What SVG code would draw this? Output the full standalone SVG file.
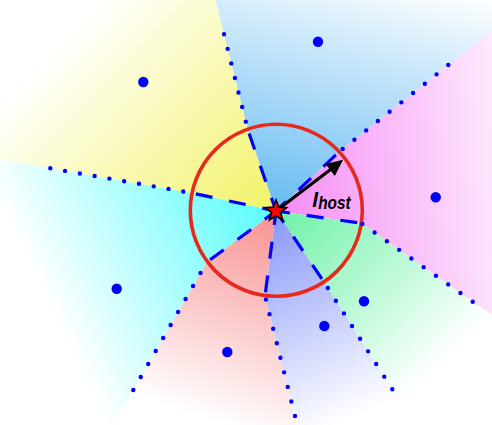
<svg xmlns="http://www.w3.org/2000/svg" width="492" height="425" viewBox="0 0 492 425">
<defs>
<linearGradient id="gY" gradientUnits="userSpaceOnUse" x1="276" y1="211" x2="80.6" y2="21"><stop offset="0" stop-color="#f2f266"/><stop offset="1" stop-color="#ffffff"/></linearGradient>
<linearGradient id="gB" gradientUnits="userSpaceOnUse" x1="276" y1="211" x2="338.7" y2="-41.5"><stop offset="0" stop-color="#66bbf2"/><stop offset="1" stop-color="#ffffff"/></linearGradient>
<linearGradient id="gP" gradientUnits="userSpaceOnUse" x1="276" y1="211" x2="554.9" y2="187.3"><stop offset="0" stop-color="#f58af5"/><stop offset="1" stop-color="#ffffff"/></linearGradient>
<linearGradient id="gG" gradientUnits="userSpaceOnUse" x1="276" y1="211" x2="433" y2="372"><stop offset="0" stop-color="#6cf2a6"/><stop offset="1" stop-color="#ffffff"/></linearGradient>
<linearGradient id="gV" gradientUnits="userSpaceOnUse" x1="276" y1="211" x2="361" y2="413.6"><stop offset="0" stop-color="#8696f8"/><stop offset="1" stop-color="#ffffff"/></linearGradient>
<linearGradient id="gR" gradientUnits="userSpaceOnUse" x1="276" y1="211" x2="204.3" y2="419"><stop offset="0" stop-color="#f89090"/><stop offset="1" stop-color="#ffffff"/></linearGradient>
<linearGradient id="gC" gradientUnits="userSpaceOnUse" x1="276" y1="211" x2="55.7" y2="318.4"><stop offset="0" stop-color="#58fcfc"/><stop offset="1" stop-color="#ffffff"/></linearGradient>
</defs>
<style>
.dash{fill:none;stroke:#0000ff;stroke-width:3.2;stroke-dasharray:17 17;stroke-dashoffset:3}
.dot{fill:none;stroke:#0000ff;stroke-width:4.4;stroke-linecap:round;stroke-dasharray:0 15}
.site{fill:#0000ff}
.lbl{font-family:"Liberation Sans",Arial,sans-serif;font-weight:bold;font-style:italic;fill:#000}
</style>
<rect width="492" height="425" fill="#ffffff"/>
<g id="sectors">
<polygon fill="url(#gB)" points="276,211 247.8,129.8 224,34.3 127.2,-353.7 761.1,-184.2 448.3,65 339,152"/>
<polygon fill="url(#gP)" points="276,211 339,152 448.3,65 761.1,-184.2 799.5,532.1 472.7,301.7 361.5,223.3"/>
<polygon fill="url(#gG)" points="276,211 361.5,223.3 472.7,301.7 799.5,532.1 607.1,726.9 392.3,389.3 324,282"/>
<polygon fill="url(#gV)" points="276,211 324,282 392.3,389.3 607.1,726.9 392.2,804 295,416 265,296"/>
<polygon fill="url(#gR)" points="276,211 265,296 295,416 392.2,804 -65.9,736.8 133.3,390 206.5,262.5"/>
<polygon fill="url(#gC)" points="276,211 206.5,262.5 133.3,390 -65.9,736.8 -343.7,99.5 50.3,168.3 192,193"/>
<polygon fill="url(#gY)" points="276,211 192,193 50.3,168.3 -343.7,99.5 127.2,-353.7 224,34.3 247.8,129.8"/>
</g>
<g id="host-circle">
<circle cx="276.3" cy="210.3" r="86" fill="none" stroke="#e8281a" stroke-width="3.6"/>
</g>
<g id="connectors">
<path class="dash" d="M276,211 L247.8,129.8"/>
<path class="dash" d="M276,211 L339,152"/>
<path class="dash" d="M276,211 L192,193"/>
<path class="dash" d="M276,211 L361.5,223.3"/>
<path class="dash" d="M276,211 L206.5,262.5"/>
<path class="dash" d="M276,211 L265,296"/>
<path class="dash" d="M276,211 L324,282"/>
<path class="dot" d="M224,34.3 L247.8,129.8"/>
<path class="dot" d="M448.3,65 L339,152"/>
<path class="dot" d="M50.3,168.3 L192,193"/>
<path class="dot" d="M472.7,301.7 L361.5,223.3"/>
<path class="dot" d="M133.3,390 L206.5,262.5"/>
<path class="dot" d="M295,416 L265,296"/>
<path class="dot" d="M392.3,389.3 L324,282"/>
</g>
<g id="arrow">
<line x1="276" y1="211" x2="330.5" y2="169.4" stroke="#000" stroke-width="3.2"/>
<polygon points="343,159.8 334.8,176.1 325.7,164.1" fill="#000"/>
</g>
<g id="sites">
<g id="site-yellow"><circle class="site" cx="143.3" cy="82" r="5.2"/></g>
<g id="site-blue"><circle class="site" cx="318" cy="41.7" r="5.2"/></g>
<g id="site-pink"><circle class="site" cx="435.7" cy="197.3" r="5.2"/></g>
<g id="site-green"><circle class="site" cx="364" cy="301.3" r="5.2"/></g>
<g id="site-purple"><circle class="site" cx="324.3" cy="326" r="5.2"/></g>
<g id="site-red"><circle class="site" cx="227.3" cy="352" r="5.2"/></g>
<g id="site-cyan"><circle class="site" cx="116.7" cy="288.7" r="5.2"/></g>
</g>
<g id="host-star">
<polygon points="276,200 278.8,207.1 286.5,207.6 280.6,212.4 282.5,219.9 276,215.8 269.5,219.9 271.4,212.4 265.5,207.6 273.2,207.1" fill="#ff0000" stroke="#000" stroke-width="1.7" stroke-linejoin="miter"/>
</g>
<g id="label">
<text class="lbl" x="312.3" y="206.7" font-size="21">l<tspan font-size="17.5" dy="1.8" textLength="32.5" lengthAdjust="spacingAndGlyphs">host</tspan></text>
</g>
</svg>
